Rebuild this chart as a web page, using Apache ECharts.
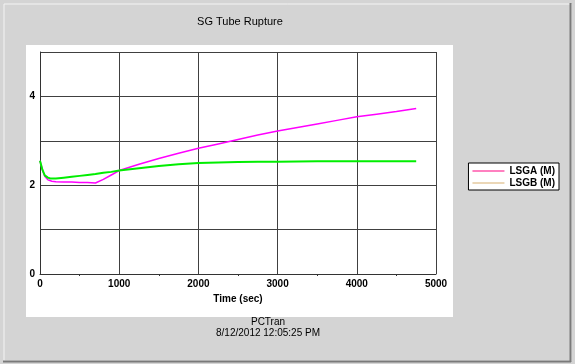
<!DOCTYPE html>
<html><head><meta charset="utf-8">
<script src="https://cdn.jsdelivr.net/npm/echarts@6/dist/echarts.min.js"></script>
<style>html,body{margin:0;padding:0;background:#d4d4d4;}#c{width:575px;height:364px;}</style>
</head><body><div id="c"></div>
<script>
const titleText = 'SG Tube Rupture';
const xAxisName = 'Time (sec)';
const footerLines = ['PCTran', '8/12/2012 12:05:25 PM'];
const seriesNames = ['LSGA (M)', 'LSGB (M)'];
const lsgaTime = [0, 30, 60, 100, 150, 200, 300, 400, 500, 600, 700, 800, 900, 1000, 1250, 1500, 1750, 2000, 2250, 2500, 2750, 3000, 3250, 3500, 3750, 4000, 4250, 4500, 4750];
const lsgaVals = [2.55, 2.35, 2.2, 2.12, 2.09, 2.08, 2.07, 2.07, 2.06, 2.06, 2.05, 2.13, 2.23, 2.33, 2.47, 2.6, 2.72, 2.83, 2.93, 3.03, 3.13, 3.22, 3.30, 3.38, 3.46, 3.54, 3.60, 3.66, 3.73];
const lsgbTime = [0, 30, 60, 100, 130, 200, 300, 400, 500, 600, 700, 800, 900, 1000, 1250, 1500, 1750, 2000, 2250, 2500, 2750, 3000, 3500, 4000, 4500, 4750];
const lsgbVals = [2.55, 2.35, 2.22, 2.17, 2.15, 2.15, 2.17, 2.19, 2.21, 2.23, 2.25, 2.28, 2.30, 2.33, 2.38, 2.43, 2.47, 2.50, 2.51, 2.52, 2.53, 2.53, 2.54, 2.54, 2.54, 2.54];
const xMin = 0, xMax = 5000, xStep = 1000;
const yMin = 0, yMax = 5, yStep = 1;
const yLabelShown = [0, 2, 4];

const chart = echarts.init(document.getElementById('c'));
const pair = (t, v) => t.map((x, i) => [x, v[i]]);
const font = 'Arial, "Liberation Sans", sans-serif';
chart.setOption({
  backgroundColor: '#d4d4d4',
  animation: false,
  graphic: [
    {type: 'rect', shape: {x: 4, y: 4, width: 567, height: 357}, style: {fill: 'none', stroke: '#f4f4f4', lineWidth: 1}, z: -10},
    {type: 'line', shape: {x1: 570.5, y1: 3, x2: 570.5, y2: 362}, style: {stroke: '#7a7a7a', lineWidth: 2}, z: -9},
    {type: 'line', shape: {x1: 3, y1: 361.5, x2: 571, y2: 361.5}, style: {stroke: '#7a7a7a', lineWidth: 2}, z: -9},
    {type: 'rect', shape: {x: 26, y: 45, width: 427, height: 272}, style: {fill: '#ffffff'}, z: -5},
    {type: 'text', style: {text: titleText, x: 240, y: 16, fill: '#000', font: '11px ' + font, textAlign: 'center'}},
    {type: 'text', style: {text: footerLines[0], x: 268, y: 317, fill: '#000', font: '10px ' + font, textAlign: 'center'}},
    {type: 'text', style: {text: footerLines[1], x: 268, y: 328, fill: '#000', font: '10px ' + font, textAlign: 'center'}}
  ],
  legend: {
    right: 16, top: 163, orient: 'vertical', itemGap: 2,
    backgroundColor: '#fff', borderColor: '#000', borderWidth: 1,
    padding: [3, 4, 2, 4], itemWidth: 32, itemHeight: 6,
    textStyle: {fontFamily: font, fontSize: 10, fontWeight: 'bold', color: '#000'},
    data: [
      {name: seriesNames[0], icon: 'path://M0,0 L32,0 L32,2 L0,2 Z', itemStyle: {color: '#ff80c0'}},
      {name: seriesNames[1], icon: 'path://M0,0 L32,0 L32,1 L0,1 Z', itemStyle: {color: '#d8b070'}}
    ]
  },
  grid: {left: 40, right: 139, top: 52, bottom: 90, show: false},
  xAxis: {
    type: 'value', min: xMin, max: xMax, interval: xStep,
    name: xAxisName, nameLocation: 'middle', nameGap: 20,
    nameTextStyle: {fontFamily: font, fontSize: 10, fontWeight: 'bold', color: '#000'},
    axisLine: {show: true, lineStyle: {color: '#333', width: 1}},
    axisTick: {show: false},
    minorTick: {show: true, splitNumber: 2, length: 2, lineStyle: {color: '#333'}},
    axisLabel: {fontFamily: font, fontSize: 10, fontWeight: 'bold', color: '#000', margin: 5,
      formatter: v => String(v)},
    splitLine: {show: true, lineStyle: {color: '#404040', width: 1}}
  },
  yAxis: {
    type: 'value', min: yMin, max: yMax, interval: yStep,
    axisLine: {show: true, lineStyle: {color: '#333', width: 1}},
    axisTick: {show: false},
    axisLabel: {fontFamily: font, fontSize: 10, fontWeight: 'bold', color: '#000', margin: 5,
      formatter: v => yLabelShown.includes(v) ? String(v) : ''},
    splitLine: {show: true, lineStyle: {color: '#404040', width: 1}}
  },
  series: [
    {name: seriesNames[0], type: 'line', data: pair(lsgaTime, lsgaVals), showSymbol: false,
      lineStyle: {color: '#ff00ff', width: 1.5}, itemStyle: {color: '#ff00ff'}},
    {name: seriesNames[1], type: 'line', data: pair(lsgbTime, lsgbVals), showSymbol: false,
      lineStyle: {color: '#00ee00', width: 2}, itemStyle: {color: '#00ee00'}}
  ]
});
</script></body></html>
